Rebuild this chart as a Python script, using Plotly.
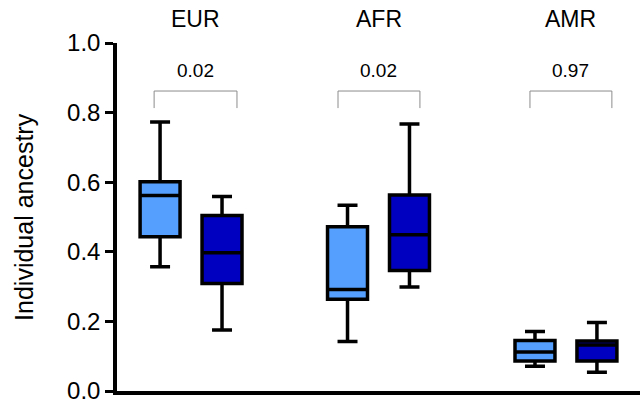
import plotly.graph_objects as go

# ---- data ----
groups = ["EUR", "AFR", "AMR"]
p_values = ["0.02", "0.02", "0.97"]

s1_upper = [0.773, 0.534, 0.171]
s1_q3 = [0.601, 0.472, 0.145]
s1_median = [0.562, 0.292, 0.112]
s1_q1 = [0.443, 0.264, 0.086]
s1_lower = [0.357, 0.142, 0.071]

s2_upper = [0.559, 0.767, 0.197]
s2_q3 = [0.504, 0.563, 0.144]
s2_median = [0.397, 0.449, 0.132]
s2_q1 = [0.309, 0.346, 0.086]
s2_lower = [0.175, 0.299, 0.054]

y_ticks = [0.0, 0.2, 0.4, 0.6, 0.8, 1.0]
y_tick_labels = ["0.0", "0.2", "0.4", "0.6", "0.8", "1.0"]

FONT = "Liberation Sans, Arial, sans-serif"

fig = go.Figure()
fig.add_trace(go.Box(
    x=groups, q1=s1_q1, median=s1_median, q3=s1_q3,
    lowerfence=s1_lower, upperfence=s1_upper,
    fillcolor="#55A0FF", line=dict(color="black", width=3.5),
    whiskerwidth=0.5, boxpoints=False, offsetgroup="a", showlegend=False,
))
fig.add_trace(go.Box(
    x=groups, q1=s2_q1, median=s2_median, q3=s2_q3,
    lowerfence=s2_lower, upperfence=s2_upper,
    fillcolor="#0000C0", line=dict(color="black", width=3.5),
    whiskerwidth=0.5, boxpoints=False, offsetgroup="b", showlegend=False,
))

# brackets and labels
bracket_left = [-0.197, 0.784, 1.808]
bracket_right = [0.245, 1.221, 2.245]
for i, g in enumerate(groups):
    l, r = bracket_left[i], bracket_right[i]
    fig.add_shape(type="path",
                  path=f"M {l} 0.813 L {l} 0.862 L {r} 0.862 L {r} 0.813",
                  xref="x", yref="y", line=dict(color="#8c8c8c", width=1))
    fig.add_annotation(x=(l + r) / 2, y=0.92, xref="x", yref="paper",
                       xanchor="center", yanchor="middle",
                       text=p_values[i], showarrow=False,
                       font=dict(family=FONT, size=19, color="black"))
    fig.add_annotation(x=(l + r) / 2, y=1.07, xref="x", yref="paper",
                       xanchor="center", yanchor="middle",
                       text=g, showarrow=False,
                       font=dict(family=FONT, size=23, color="black"))

fig.add_annotation(x=-0.178, y=0.5, xref="paper", yref="paper",
                   xanchor="center", yanchor="middle",
                   text="Individual ancestry", textangle=-90, showarrow=False,
                   font=dict(family=FONT, size=25, color="black"))

fig.update_layout(
    width=643, height=406,
    margin=dict(l=117, r=3, t=43, b=15),
    paper_bgcolor="white", plot_bgcolor="white",
    boxmode="group", boxgap=0.339, boxgroupgap=0.355,
    font=dict(family=FONT, color="black"),
)
fig.update_xaxes(range=[-0.395, 2.395], showline=True, linecolor="black",
                 linewidth=3.5, showticklabels=False, ticks="", showgrid=False,
                 zeroline=False)
fig.update_yaxes(range=[0, 1.0], tickvals=y_ticks, ticktext=y_tick_labels,
                 showline=True, linecolor="black", linewidth=3.5,
                 ticks="outside", ticklen=8, tickwidth=3, tickcolor="black",
                 tickfont=dict(family=FONT, size=24, color="black"),
                 showgrid=False, zeroline=False)

fig.write_html("out.html", config={"displayModeBar": False},
               post_script="document.body.style.margin='0';document.body.style.overflow='hidden';")
